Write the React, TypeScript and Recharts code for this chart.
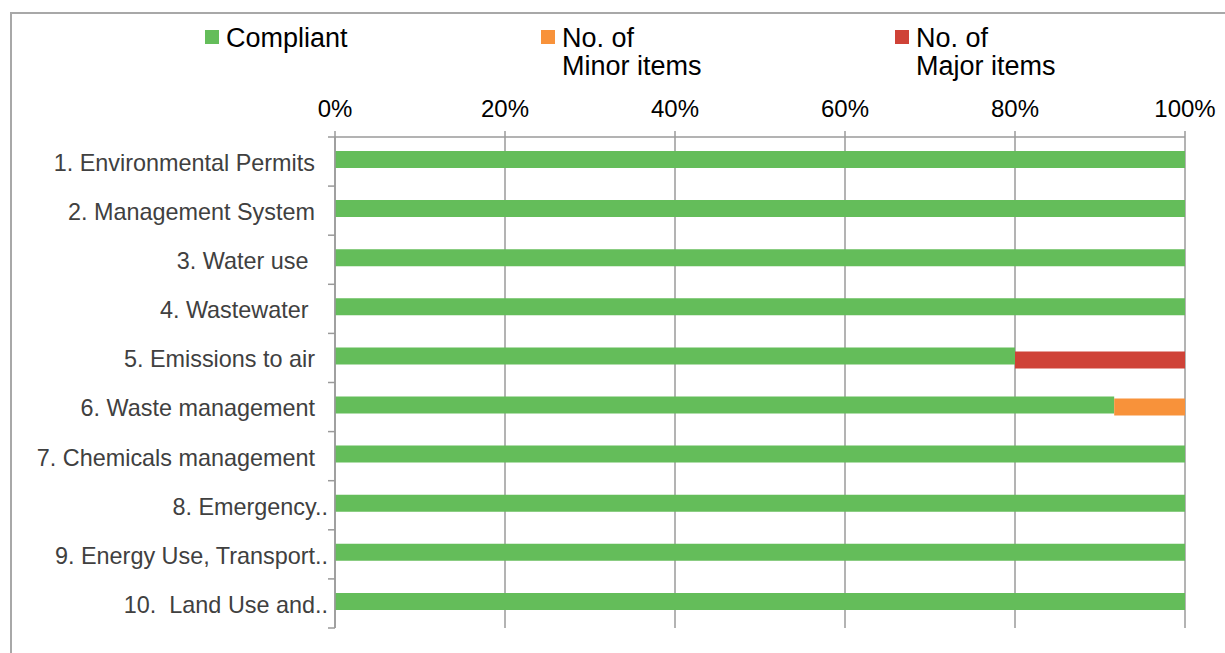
import React from "react";
import { BarChart, Bar, XAxis, YAxis, CartesianGrid, Legend } from "recharts";

const categories = [
  "1. Environmental Permits  ",
  "2. Management System  ",
  "3. Water use   ",
  "4. Wastewater   ",
  "5. Emissions to air  ",
  "6. Waste management  ",
  "7. Chemicals management  ",
  "8. Emergency..",
  "9. Energy Use, Transport..",
  "10.  Land Use and..",
];
const compliant = [1, 1, 1, 1, 0.8, 0.9167, 1, 1, 1, 1];
const minorItems = [0, 0, 0, 0, 0, 0.0833, 0, 0, 0, 0];
const majorItems = [0, 0, 0, 0, 0.2, 0, 0, 0, 0, 0];
const xTicks = [0, 0.2, 0.4, 0.6, 0.8, 1];
const seriesOrder = ["compliant", "minor", "major"];

const GREEN = "#64bd5a";
const ORANGE = "#f8923a";
const RED = "#cf4237";
const GRID = "#9a9a9a";
const FONT = "'Liberation Sans', Arial, sans-serif";

const data = categories.map((name, i) => ({
  name,
  compliant: compliant[i],
  minor: [compliant[i], compliant[i] + minorItems[i]],
  major: [compliant[i] + minorItems[i], compliant[i] + minorItems[i] + majorItems[i]],
}));

const legendLeft = [205, 541, 895];

const CategoryTick = (props: any) => {
  const { x, y, payload, index, visibleTicksCount } = props;
  const half = payload && typeof payload.offset === "number" && payload.offset > 0 ? payload.offset : 24.55;
  const axisX = x + 7;
  const isLast = index === (visibleTicksCount ?? categories.length) - 1;
  return (
    <g>
      <line x1={axisX - 7} x2={axisX} y1={y - half} y2={y - half} stroke={GRID} strokeWidth={1.5} />
      {isLast && (
        <line x1={axisX - 7} x2={axisX} y1={y + half} y2={y + half} stroke={GRID} strokeWidth={1.5} />
      )}
      <text
        x={x}
        y={y}
        dy="0.4em"
        textAnchor="end"
        fill="#404040"
        fontSize={23.4}
        fontFamily={FONT}
        style={{ whiteSpace: "pre" }}
      >
        {payload.value}
      </text>
    </g>
  );
};

const LegendContent = (props: any) => {
  const items = [...(props.payload || [])].sort(
    (a: any, b: any) => seriesOrder.indexOf(a.dataKey) - seriesOrder.indexOf(b.dataKey)
  );
  return (
    <div style={{ position: "relative", width: 1225, height: 90 }}>
      {items.map((p: any, i: number) => (
        <div
          key={i}
          style={{
            position: "absolute",
            left: legendLeft[i],
            top: 24,
            display: "flex",
            alignItems: "flex-start",
          }}
        >
          <div
            style={{
              width: 14,
              height: 14,
              background: p.color,
              marginTop: 6,
              marginRight: 7,
            }}
          />
          <div
            style={{
              fontFamily: FONT,
              fontSize: 27,
              lineHeight: "28px",
              color: "#000",
              whiteSpace: "pre-line",
            }}
          >
            {p.value}
          </div>
        </div>
      ))}
    </div>
  );
};

export default function App() {
  return (
    <div
      style={{
        position: "relative",
        width: 1225,
        height: 653,
        overflow: "hidden",
        background: "#fff",
      }}
    >
      <style>{`html,body{margin:0;padding:0;overflow:hidden;}`}</style>
      <div
        style={{
          position: "absolute",
          left: 10,
          top: 12,
          width: 1400,
          height: 800,
          borderLeft: "2px solid #a8a8a8",
          borderTop: "2px solid #a8a8a8",
        }}
      />
      <div style={{ position: "absolute", left: 0, top: 0 }}>
        <BarChart
          width={1225}
          height={653}
          data={data}
          layout="vertical"
          margin={{ top: 97, right: 40, bottom: 25, left: 10 }}
          barGap={-15}
        >
          <CartesianGrid horizontal={false} vertical={true} stroke={GRID} strokeWidth={1.5} />
          <XAxis
            type="number"
            orientation="top"
            domain={[0, 1]}
            ticks={xTicks}
            tickFormatter={(v: number) => `${Math.round(v * 100)}%`}
            height={40}
            axisLine={{ stroke: GRID, strokeWidth: 1.5 }}
            tickLine={{ stroke: GRID, strokeWidth: 1.5 }}
            tickSize={6}
            tickMargin={14}
            tick={{ fill: "#000", fontSize: 24, fontFamily: FONT }}
            interval={0}
          />
          <YAxis
            type="category"
            dataKey="name"
            width={325}
            tickLine={false}
            tickSize={7}
            tickMargin={0}
            axisLine={{ stroke: GRID, strokeWidth: 1.5 }}
            tick={<CategoryTick />}
            interval={0}
          />
          <Legend
            verticalAlign="middle"
            content={<LegendContent />}
            wrapperStyle={{ position: "absolute", top: 0, left: 0, width: 1225, height: 90 }}
          />
          <Bar dataKey="compliant" name="Compliant" fill={GREEN} barSize={17} isAnimationActive={false} />
          <Bar dataKey="minor" name={"No. of\nMinor items"} fill={ORANGE} barSize={17} isAnimationActive={false} />
          <Bar dataKey="major" name={"No. of\nMajor items"} fill={RED} barSize={17} isAnimationActive={false} />
        </BarChart>
      </div>
    </div>
  );
}
